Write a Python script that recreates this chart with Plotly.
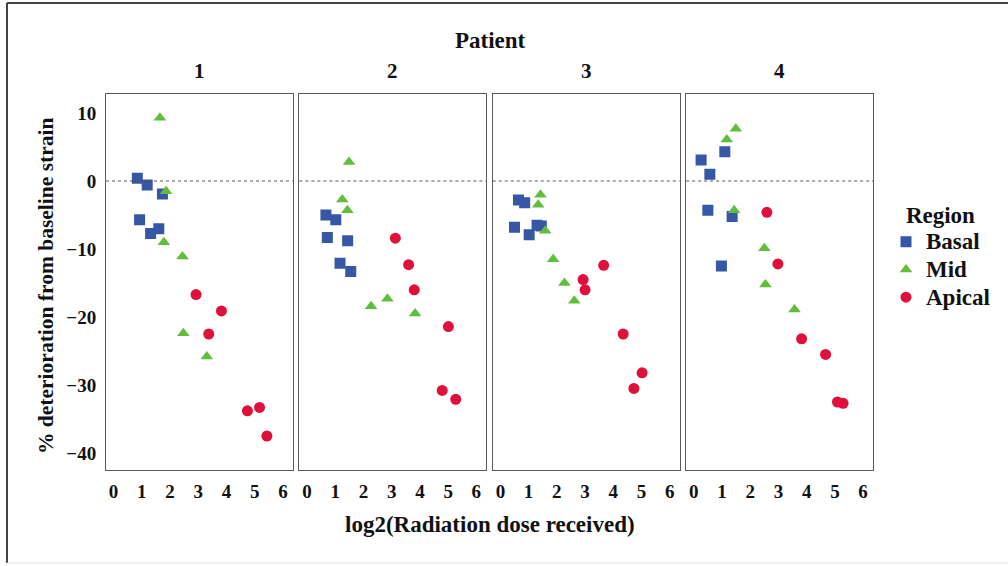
import plotly.graph_objects as go
from plotly.subplots import make_subplots

patients = ["1", "2", "3", "4"]
regions = ["Basal", "Mid", "Apical"]

# log2(dose) and % deterioration, per patient
basal_x = [[0.84, 1.19, 1.73, 0.92, 1.31, 1.60],
           [0.67, 1.02, 0.72, 1.44, 1.17, 1.55],
           [0.64, 0.86, 0.50, 1.02, 1.30, 1.45],
           [0.26, 0.57, 1.10, 0.50, 1.36, 0.98]]
basal_y = [[0.4, -0.6, -1.9, -5.7, -7.7, -7.0],
           [-5.0, -5.7, -8.3, -8.8, -12.1, -13.3],
           [-2.8, -3.2, -6.8, -7.9, -6.5, -6.6],
           [3.1, 1.0, 4.3, -4.3, -5.2, -12.5]]
mid_x = [[1.64, 1.86, 1.78, 2.44, 2.47, 3.30],
         [1.49, 1.25, 1.43, 2.27, 2.85, 3.83],
         [1.42, 1.34, 1.59, 1.87, 2.27, 2.62],
         [1.49, 1.17, 1.43, 2.50, 2.54, 3.57]]
mid_y = [[9.3, -1.5, -9.0, -11.1, -22.4, -25.8],
         [2.8, -2.7, -4.3, -18.4, -17.3, -19.5],
         [-2.0, -3.5, -7.3, -11.5, -15.0, -17.6],
         [7.7, 6.1, -4.3, -9.9, -15.2, -18.9]]
apical_x = [[2.92, 3.82, 3.37, 4.74, 5.17, 5.43],
            [3.13, 3.60, 3.80, 5.01, 4.79, 5.27],
            [3.66, 2.93, 3.00, 4.35, 5.02, 4.73],
            [2.59, 2.98, 3.82, 4.67, 5.09, 5.29]]
apical_y = [[-16.7, -19.1, -22.5, -33.8, -33.3, -37.5],
            [-8.4, -12.3, -16.0, -21.4, -30.8, -32.1],
            [-12.4, -14.5, -16.0, -22.5, -28.2, -30.5],
            [-4.6, -12.2, -23.2, -25.5, -32.5, -32.7]]

x_ticks = [0, 1, 2, 3, 4, 5, 6]
y_ticks = [10, 0, -10, -20, -30, -40]

colors = {"Basal": "#3656a6", "Mid": "#62bd3c", "Apical": "#e0103c"}
symbols = {"Basal": "square", "Mid": "triangle-up", "Apical": "circle"}
series = {"Basal": (basal_x, basal_y), "Mid": (mid_x, mid_y), "Apical": (apical_x, apical_y)}

FONT = "Liberation Serif, Times New Roman, serif"
TXT = "#111111"
W, H = 1008, 566
L, R, T, B = 106, 135, 94, 96
PW, PH = W - L - R, H - T - B

fig = make_subplots(rows=1, cols=4, shared_yaxes=True, horizontal_spacing=0.0085)

for reg in regions:
    xs, ys = series[reg]
    for i in range(4):
        fig.add_trace(go.Scatter(
            x=xs[i], y=ys[i], mode="markers",
            name="<span style='font-size:23px'><b>" + reg + "</b></span>",
            legendgroup=reg, showlegend=(i == 0),
            marker=dict(symbol=symbols[reg], color=colors[reg], size=11,
                        line=dict(width=0)),
        ), row=1, col=i + 1)

for i in range(4):
    fig.add_hline(y=0, line=dict(color="#555555", width=1, dash="dot"), row=1, col=i + 1)

axis_common = dict(showgrid=False, zeroline=False, showline=True, mirror=True,
                   linecolor="#5a5a5a", linewidth=1, ticks="",
                   tickfont=dict(family=FONT, size=19, color=TXT, weight="bold"))
for i in range(4):
    fig.update_xaxes(range=[-0.27, 6.35], tickmode="array", tickvals=x_ticks,
                     ticklabelstandoff=4, **axis_common, row=1, col=i + 1)
    fig.update_yaxes(range=[-42.5, 12.8], tickmode="array", tickvals=y_ticks,
                     showticklabels=(i == 0), ticklabelstandoff=5,
                     **axis_common, row=1, col=i + 1)


def px_x(p):
    return (p - L) / PW


def px_y(p):
    return (H - B - p) / PH


def label(text, x, y, size, angle=0):
    fig.add_annotation(text="<b>" + text + "</b>", x=x, y=y, xref="paper", yref="paper",
                       xanchor="center", yanchor="middle", showarrow=False, textangle=angle,
                       font=dict(family=FONT, size=size, color=TXT))


for i, p in enumerate(patients):
    dom = fig.layout["xaxis" + ("" if i == 0 else str(i + 1))].domain
    label(p, (dom[0] + dom[1]) / 2, px_y(71), 21)
label("Patient", px_x(490), px_y(40), 23)
label("log2(Radiation dose received)", px_x(490), px_y(524), 23)
label("% deterioration from baseline strain", px_x(46), px_y(286), 21.5, -90)

fig.add_shape(type="line", xref="paper", yref="paper", x0=px_x(7), x1=px_x(1010),
              y0=px_y(3), y1=px_y(3), line=dict(color="#444444", width=2))
fig.add_shape(type="line", xref="paper", yref="paper", x0=px_x(7), x1=px_x(7),
              y0=px_y(3), y1=px_y(563), line=dict(color="#444444", width=2))
fig.add_shape(type="line", xref="paper", yref="paper", x0=px_x(7), x1=px_x(1010),
              y0=px_y(563), y1=px_y(563), line=dict(color="#dddddd", width=1))

fig.update_layout(
    width=W, height=H,
    margin=dict(l=L, r=R, t=T, b=B, autoexpand=False),
    paper_bgcolor="white", plot_bgcolor="white",
    legend=dict(x=px_x(886), y=px_y(193), xanchor="left", yanchor="top",
                title=dict(text="<b>Region</b>", side="top center",
                           font=dict(family=FONT, size=23, color=TXT)),
                font=dict(family=FONT, size=19, color=TXT),
                itemwidth=30, tracegroupgap=0, bgcolor="rgba(0,0,0,0)"),
    legend_traceorder="normal",
)

fig.write_html("out.html")
